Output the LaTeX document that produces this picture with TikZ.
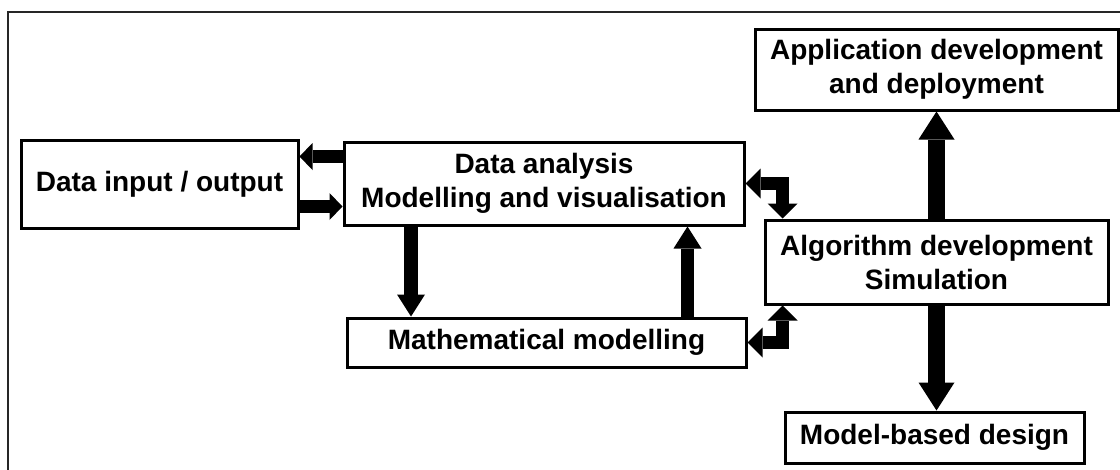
\documentclass[tikz,border=0pt]{standalone}
\usepackage{fontspec}
\setmainfont{Liberation Sans}
\usetikzlibrary{arrows.meta,calc}

\tikzset{
  box/.style={draw, line width=3pt, inner sep=0pt, align=center,
    font=\bfseries\fontsize{28}{34}\selectfont},
  thinarrow/.style={line width=13.5pt, line join=miter,
    -{Triangle[width=27pt,length=13pt,line width=0pt]}},
  elbowarrow/.style={line width=13pt, line join=miter,
    {Triangle[width=30pt,length=15pt,line width=0pt]}-{Triangle[width=30pt,length=15pt,line width=0pt]}},
  midarrow/.style={line width=13.5pt,
    -{Triangle[width=28pt,length=22pt,line width=0pt]}},
  widearrow/.style={line width=17pt,
    -{Triangle[width=36pt,length=28pt,line width=0pt]}},
}

\begin{document}
\begin{tikzpicture}[x=1pt,y=-1pt]
\useasboundingbox (0,0) rectangle (1120,469);

% frame
\draw[line width=1.6pt, black!85] (8,470) -- (8,12) -- (1121,12);

% blocks
\node[box, minimum width=277pt, minimum height=88pt] (dio) at (159.5,184) {Data input / output};
\node[box, minimum width=400pt, minimum height=83pt] (da) at (544,183.5) {Data analysis\\Modelling and visualisation};
\node[box, minimum width=399pt, minimum height=49pt] (mm) at (546.5,342.5) {Mathematical modelling};
\node[box, minimum width=363pt, minimum height=81pt] (app) at (936.5,69.5) {Application development\\and deployment};
\node[box, minimum width=343pt, minimum height=84pt] (alg) at (936.5,262) {Algorithm development\\Simulation};
\node[box, minimum width=299pt, minimum height=51pt] (mbd) at (934.5,437.5) {Model-based design};

% anchor points for the connectors
\coordinate (daout) at ($(da.north west)+(0,16)$);
\coordinate (dioout) at ($(dio.north east)+(0,68)$);
\coordinate (dadown) at ($(da.south west)+(68.5,0)$);
\coordinate (mmup) at ($(mm.north west)+(342,0)$);
\coordinate (algtop) at ($(alg.north west)+(19,0)$);
\coordinate (algbot) at ($(alg.south west)+(19,0)$);

% connectors
\draw[thinarrow] (daout) -- (daout -| dio.east);
\draw[thinarrow] (dioout) -- (dioout -| da.west);
\draw[midarrow] (dadown) -- (dadown |- mm.north);
\draw[midarrow] (mmup) -- (mmup |- da.south);
\draw[elbowarrow] (da.east) -| (algtop);
\draw[elbowarrow] (mm.east) -| (algbot);
\draw[widearrow] (alg.north) -- (app.south);
\draw[widearrow] (alg.south) -- (alg.south |- mbd.north);
\end{tikzpicture}
\end{document}
